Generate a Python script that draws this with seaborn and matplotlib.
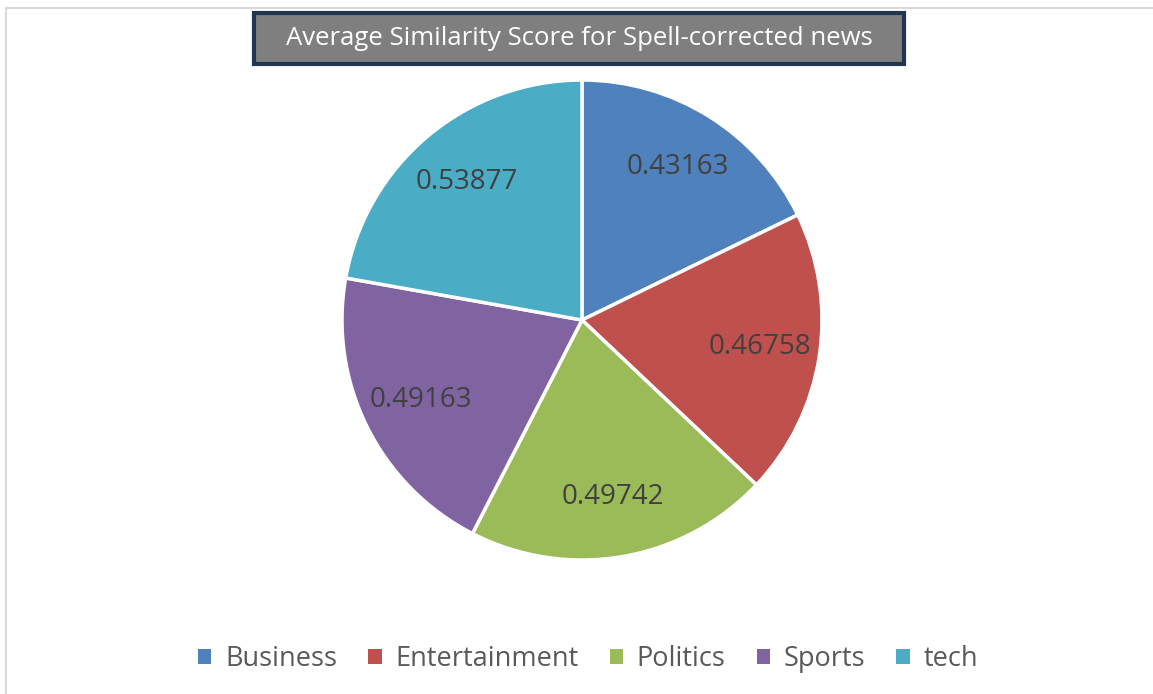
import matplotlib
matplotlib.use("Agg")
import matplotlib.pyplot as plt
from matplotlib.patches import Rectangle
import numpy as np
import seaborn as sns

categories = ["Business", "Entertainment", "Politics", "Sports", "tech"]
scores = [0.43163, 0.46758, 0.49742, 0.49163, 0.53877]
colors = ["#4f81bd", "#c0504d", "#9bbb59", "#8064a2", "#4bacc6"]
title = "Average Similarity Score for Spell-corrected news"

sns.set_theme(style="white")
plt.rcParams["font.family"] = ["Open Sans", "DejaVu Sans"]

W, H = 1153, 694
fig = plt.figure(figsize=(W / 100, H / 100), dpi=100)

# chart-area frame (light gray)
fig.patches.append(Rectangle((6 / W, -0.1), 1.2, (H - 8) / H + 0.1,
                             transform=fig.transFigure, fill=False,
                             edgecolor="#d9d9d9", linewidth=1.5))

# pie: center ~ (582, 320) px, radius ~240 px
r = 240
cx, cy = 582, 320
ax = fig.add_axes([(cx - r) / W, (H - cy - r) / H, 2 * r / W, 2 * r / H])
wedges, _ = ax.pie(scores, colors=colors, startangle=90, counterclock=False,
                   radius=1.0, wedgeprops=dict(edgecolor="white", linewidth=2.5))
for v, w in zip(scores, wedges):
    mid = np.deg2rad((w.theta1 + w.theta2) / 2)
    ax.text(0.75 * np.cos(mid), 0.75 * np.sin(mid), f"{v:.5f}",
            ha="center", va="center", fontsize=20, color="#404040")
ax.set_xlim(-1, 1)
ax.set_ylim(-1, 1)
ax.set_aspect("equal")
ax.axis("off")

# title box
bx0, bx1, by0, by1 = 254, 904, 13, 64
fig.patches.append(Rectangle((bx0 / W, (H - by1) / H), (bx1 - bx0) / W, (by1 - by0) / H,
                             transform=fig.transFigure, facecolor="#7f7f7f",
                             edgecolor="#1f3550", linewidth=3))
fig.text((bx0 + bx1) / 2 / W, (H - (by0 + by1) / 2) / H, title, ha="center", va="center",
         fontsize=18.5, color="white")

# legend
handles = [plt.Rectangle((0, 0), 1, 1, facecolor=c, edgecolor="none") for c in colors]
leg = fig.legend(handles, categories, loc="center", bbox_to_anchor=(588 / W, (H - 659) / H),
                 ncol=5, frameon=False, fontsize=19.5, handlelength=0.5, handleheight=0.5,
                 handletextpad=0.5, columnspacing=1.15)
for t in leg.get_texts():
    t.set_color("#595959")

fig.savefig("out.png", dpi=100, facecolor="white")
